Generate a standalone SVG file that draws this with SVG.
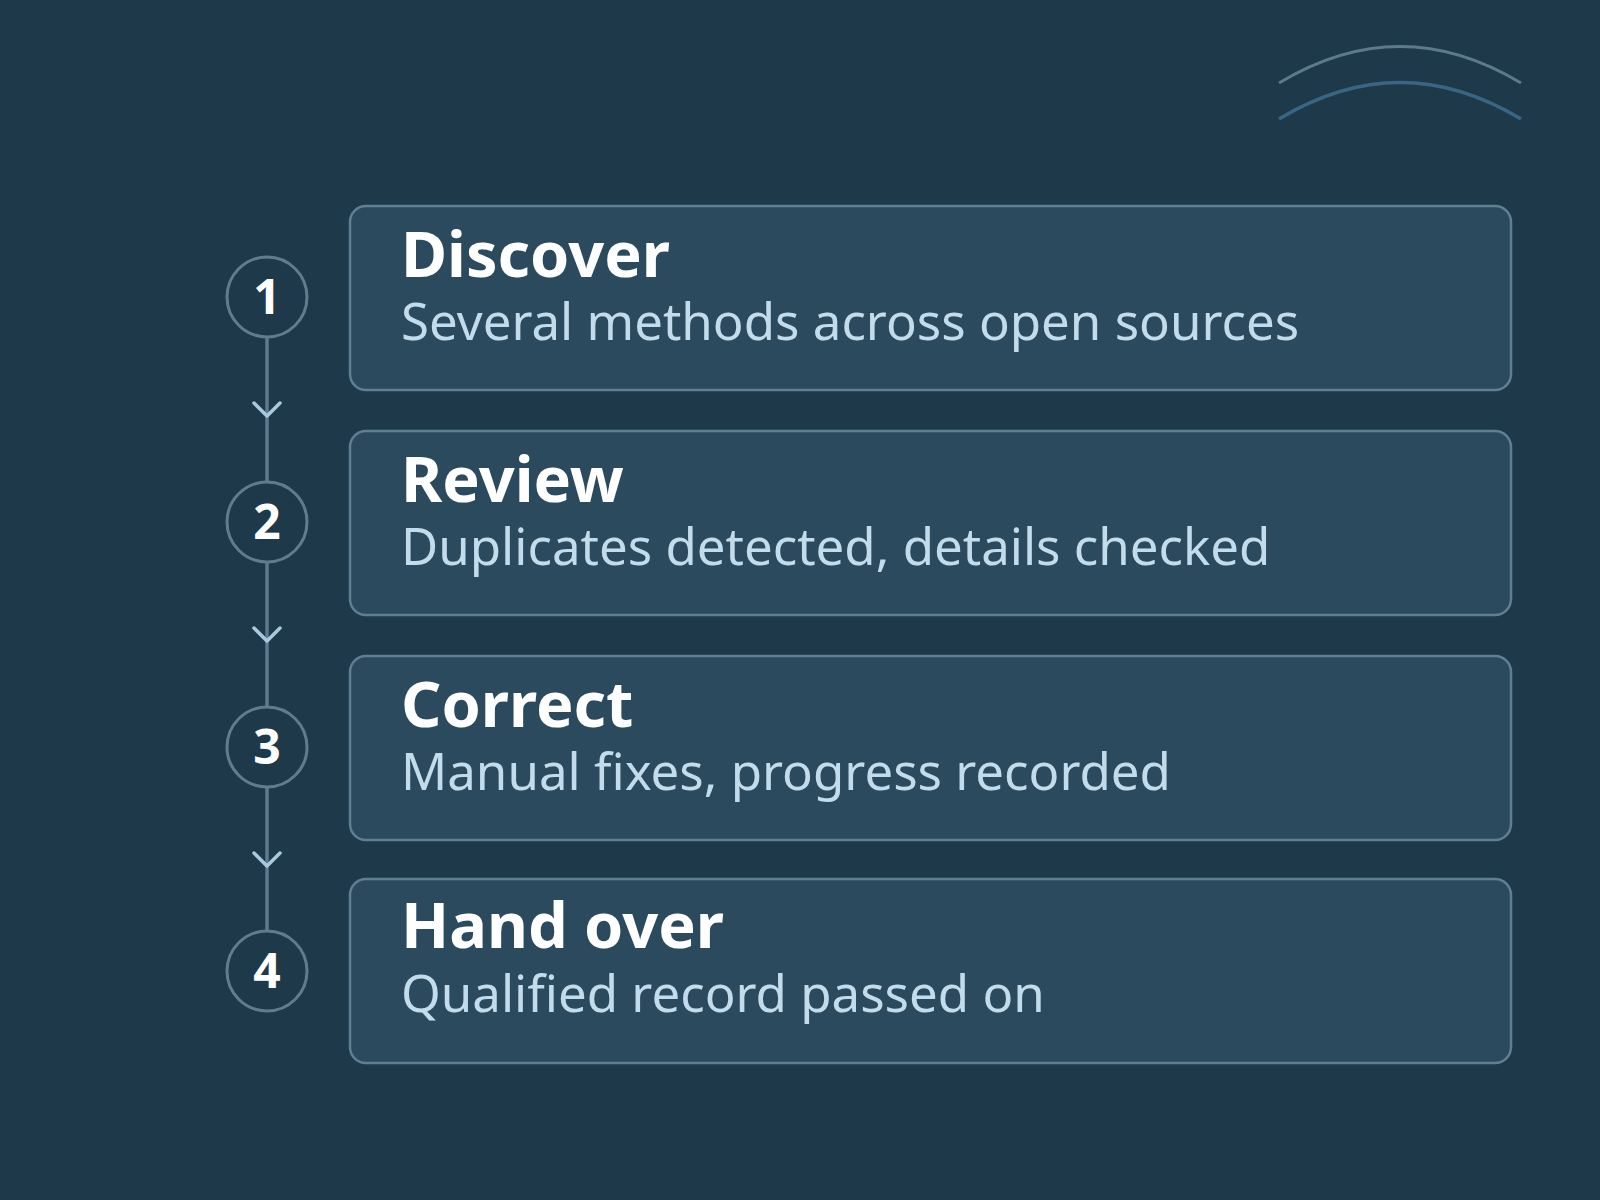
<svg xmlns="http://www.w3.org/2000/svg" width="1600" height="1200" viewBox="0 0 1600 1200">
<style>
.bg{fill:#1e3a4a}
.box{fill:#2c4a5d;stroke:#5f7f92;stroke-width:2.5}
.circ{fill:#1e3a4a;stroke:#5f7d8e;stroke-width:3}
.num{font-family:"Noto Sans","DejaVu Sans",sans-serif;font-weight:700;font-size:48px;fill:#ffffff;text-anchor:middle}
.title{font-family:"Noto Sans","DejaVu Sans",sans-serif;font-weight:700;font-size:63px;fill:#ffffff}
.sub{font-family:"Noto Sans","DejaVu Sans",sans-serif;font-weight:400;font-size:51px;fill:#c3dceb}
.line{stroke:#5f7a8a;stroke-width:3.5;fill:none}
.chev{stroke:#a9cade;stroke-width:3.5;fill:none;stroke-linecap:round;stroke-linejoin:round}
</style>
<rect class="bg" x="0" y="0" width="1600" height="1200"/>
<g id="decor">
<path d="M1279 83 Q1400 10 1521 83" fill="none" stroke="#5b7a8a" stroke-width="3"/>
<path d="M1279 119 Q1400 46 1521 119" fill="none" stroke="#3b6584" stroke-width="3.5"/>
</g>
<g id="connectors">
<line class="line" x1="267" y1="337" x2="267" y2="482"/>
<line class="line" x1="267" y1="562" x2="267" y2="707"/>
<line class="line" x1="267" y1="787" x2="267" y2="932"/>
<polyline class="chev" points="254,403 267,416 280,403"/>
<polyline class="chev" points="254,628 267,641 280,628"/>
<polyline class="chev" points="254,853 267,866 280,853"/>
</g>
<g id="step1">
<rect class="box" x="350" y="206" width="1161" height="184" rx="16"/>
<circle class="circ" cx="267" cy="297" r="40"/>
<text class="num" x="267" y="314">1</text>
<text class="title" x="401" y="277">Discover</text>
<text class="sub" x="401" y="340">Several methods across open sources</text>
</g>
<g id="step2">
<rect class="box" x="350" y="431" width="1161" height="184" rx="16"/>
<circle class="circ" cx="267" cy="522" r="40"/>
<text class="num" x="267" y="539">2</text>
<text class="title" x="401" y="502">Review</text>
<text class="sub" x="401" y="565">Duplicates detected, details checked</text>
</g>
<g id="step3">
<rect class="box" x="350" y="656" width="1161" height="184" rx="16"/>
<circle class="circ" cx="267" cy="747" r="40"/>
<text class="num" x="267" y="764">3</text>
<text class="title" x="401" y="727">Correct</text>
<text class="sub" x="401" y="790">Manual fixes, progress recorded</text>
</g>
<g id="step4">
<rect class="box" x="350" y="879" width="1161" height="184" rx="16"/>
<circle class="circ" cx="267" cy="971" r="40"/>
<text class="num" x="267" y="988">4</text>
<text class="title" x="401" y="948">Hand over</text>
<text class="sub" x="401" y="1012">Qualified record passed on</text>
</g>
</svg>
